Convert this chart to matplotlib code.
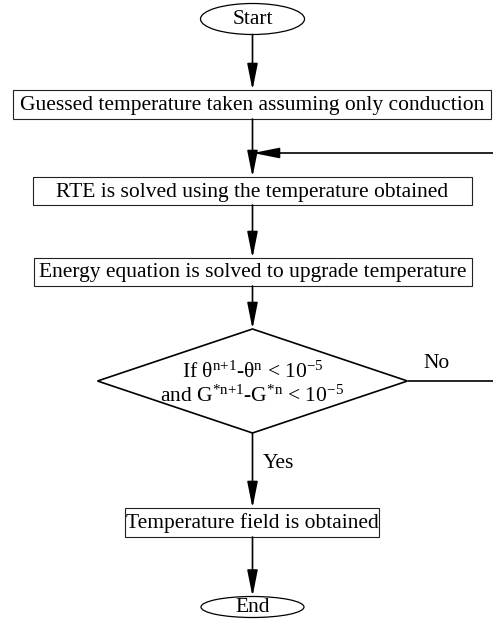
import matplotlib
matplotlib.use("Agg")
import matplotlib.pyplot as plt
from matplotlib.patches import Rectangle, Ellipse, Polygon

plt.rcParams['font.family'] = ['Liberation Serif', 'DejaVu Serif']
plt.rcParams['mathtext.fontset'] = 'custom'
plt.rcParams['mathtext.rm'] = 'Liberation Serif'
plt.rcParams['mathtext.it'] = 'Liberation Serif'
plt.rcParams['mathtext.bf'] = 'Liberation Serif:bold'

# ---- text content ----
terminals = ['Start', 'End']
process_steps = [
    'Guessed temperature taken assuming only conduction',
    'RTE is solved using the temperature obtained',
    'Energy equation is solved to upgrade temperature',
    'Temperature field is obtained',
]
decision_lines = [
    r'If θ$^{\rm n{+}1}$-θ$^{\rm n}$ < 10$^{\rm {-}5}$',
    r'and G$^{\rm {*}n{+}1}$-G$^{\rm {*}n}$ < 10$^{\rm {-}5}$',
]
branch_labels = ['No', 'Yes']

# ---- layout (pixel coordinates) ----
W, H = 493, 620
cx = 252.5
term_y = [19, 607]
term_w = [104, 103]
term_h = [31, 21]
box_x = [(13, 491), (33, 472), (34, 472), (125, 379)]
box_y = [(90, 119), (177, 205), (258, 286), (508, 537)]
dia_top, dia_bot, dia_half = 329, 433, 155
dia_mid = (dia_top + dia_bot) / 2
loop_x = 496
loop_y = 153
fs = 15.5

fig = plt.figure(figsize=(W / 100, H / 100), dpi=100)
ax = fig.add_axes([0, 0, 1, 1])
ax.set_xlim(0, W)
ax.set_ylim(H, 0)
ax.axis('off')

lw_arrow = 1.2
arrow_style = '-|>,head_length=1.6,head_width=0.32'


def arrow(x0, y0, x1, y1):
    ax.annotate('', xy=(x1, y1), xytext=(x0, y0),
                arrowprops=dict(arrowstyle=arrow_style, mutation_scale=10,
                                color='black', lw=lw_arrow,
                                shrinkA=0, shrinkB=0),
                annotation_clip=False)


def line(xs, ys):
    ax.plot(xs, ys, color='black', lw=lw_arrow, solid_capstyle='butt',
            clip_on=False)


# terminals
for lab, y, w, h in zip(terminals, term_y, term_w, term_h):
    ax.add_patch(Ellipse((cx, y), w, h, fill=False, ec='black', lw=0.9))
    ax.text(cx, y + 0.5, lab, ha='center', va='center', fontsize=fs)

# process boxes
for lab, (x0, x1), (y0, y1) in zip(process_steps, box_x, box_y):
    ax.add_patch(Rectangle((x0, y0), x1 - x0, y1 - y0, fill=False,
                           ec='#222222', lw=0.8))
    ax.text((x0 + x1) / 2, (y0 + y1) / 2 + 1, lab, ha='center',
            va='center', fontsize=fs)

# decision diamond
ax.add_patch(Polygon([(cx, dia_top), (cx + dia_half, dia_mid),
                      (cx, dia_bot), (cx - dia_half, dia_mid)],
                     closed=True, fill=False, ec='black', lw=1.2))
ax.text(cx, dia_mid - 9, decision_lines[0], ha='center', va='center',
        fontsize=fs)
ax.text(cx, dia_mid + 15, decision_lines[1], ha='center', va='center',
        fontsize=fs)

# arrows down the main path
arrow(cx, term_y[0] + term_h[0] / 2, cx, box_y[0][0])
arrow(cx, box_y[0][1], cx, box_y[1][0])
arrow(cx, box_y[1][1], cx, box_y[2][0])
arrow(cx, box_y[2][1], cx, dia_top)
arrow(cx, dia_bot, cx, box_y[3][0])
arrow(cx, box_y[3][1], cx, term_y[1] - term_h[1] / 2)

# loop back (No branch)
line([cx + dia_half, loop_x], [dia_mid, dia_mid])
line([loop_x, loop_x], [dia_mid, loop_y])
arrow(loop_x, loop_y, cx + 0.5, loop_y)

ax.text(437, dia_mid - 17, branch_labels[0], ha='center', va='center',
        fontsize=fs)
ax.text(263, 463, branch_labels[1], ha='left', va='center', fontsize=fs)

fig.savefig('out.png', dpi=100)
